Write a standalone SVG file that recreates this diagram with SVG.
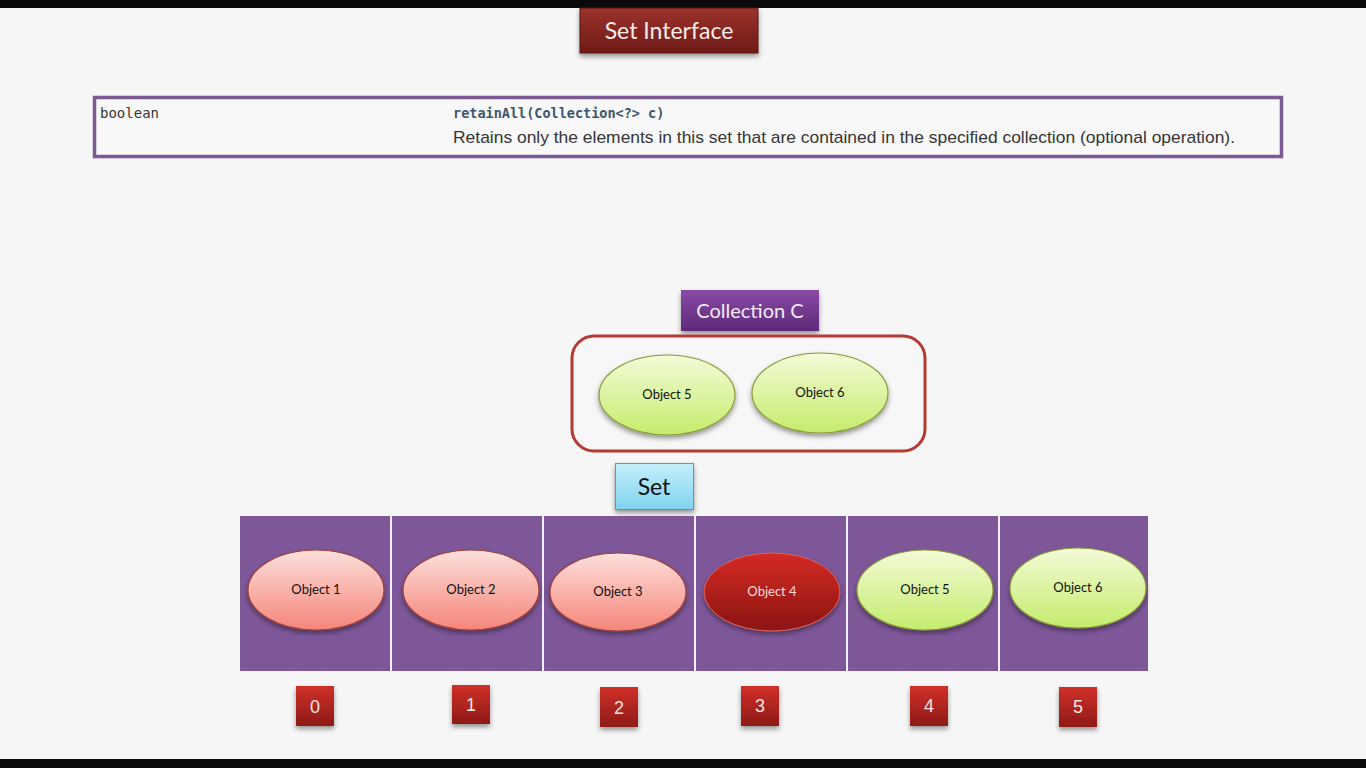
<svg xmlns="http://www.w3.org/2000/svg" width="1366" height="768" viewBox="0 0 1366 768">
<defs>
<linearGradient id="gRedBox" x1="0" y1="0" x2="0" y2="1"><stop offset="0" stop-color="#9c322b"/><stop offset="1" stop-color="#6e1b17"/></linearGradient>
<linearGradient id="gIdx" x1="0" y1="0" x2="0" y2="1"><stop offset="0" stop-color="#d0302a"/><stop offset="1" stop-color="#8e1a16"/></linearGradient>
<linearGradient id="gPurple" x1="0" y1="0" x2="0" y2="1"><stop offset="0" stop-color="#8a4aa6"/><stop offset="1" stop-color="#5e2a78"/></linearGradient>
<linearGradient id="gBlue" x1="0" y1="0" x2="0" y2="1"><stop offset="0" stop-color="#c4eefb"/><stop offset="1" stop-color="#7fd3f0"/></linearGradient>
<linearGradient id="gGreen" x1="0" y1="0" x2="0" y2="1"><stop offset="0" stop-color="#f4fbd8"/><stop offset="1" stop-color="#c4ec6c"/></linearGradient>
<linearGradient id="gPink" x1="0" y1="0" x2="0" y2="1"><stop offset="0" stop-color="#fde0dc"/><stop offset="1" stop-color="#f5857a"/></linearGradient>
<linearGradient id="gDark" x1="0" y1="0" x2="0" y2="1"><stop offset="0" stop-color="#d42a24"/><stop offset="1" stop-color="#8a1512"/></linearGradient>
<filter id="sh" x="-20%" y="-20%" width="140%" height="150%"><feDropShadow dx="0" dy="3" stdDeviation="2.5" flood-color="#000" flood-opacity="0.4"/></filter>
</defs>
<style>
.cal{font-family:Lato,"Open Sans","Liberation Sans",sans-serif}
.lbl{font-size:13px;fill:#111;text-anchor:middle}
.idx{fill:url(#gIdx);filter:url(#sh)}
.idxt{font-family:"Liberation Sans",sans-serif;font-size:18px;fill:#f4e6e4;text-anchor:middle}
.green{fill:url(#gGreen);stroke:#8a9a3a;stroke-width:1.2;filter:url(#sh)}
.pink{fill:url(#gPink);stroke:#a0403a;stroke-width:1.2;filter:url(#sh)}
</style>
<rect width="1366" height="768" fill="#f7f6f6"/>
<rect x="0" y="0" width="1366" height="8" fill="#0a0a0a"/>
<rect x="0" y="759" width="1366" height="9" fill="#0a0a0a"/>

<g id="set-interface">
<rect x="580" y="8" width="178" height="45" fill="url(#gRedBox)" stroke="#5a1510" stroke-width="1" filter="url(#sh)"/>
<text x="669" y="39" class="cal" font-size="23" fill="#f6ecea" text-anchor="middle">Set Interface</text>
</g>

<g id="method-box">
<rect x="94.5" y="97.5" width="1187" height="59" fill="#f8f8f8" stroke="#7c5a94" stroke-width="3.5"/>
<text x="100" y="118" font-family="'DejaVu Sans Mono',monospace" font-size="14" fill="#353535">boolean</text>
<text x="453" y="118" font-family="'DejaVu Sans Mono',monospace" font-size="13.5" font-weight="bold" fill="#3d5670">retainAll(Collection&lt;?&gt; c)</text>
<text x="453" y="143" font-family="'Liberation Sans',Arial,sans-serif" font-size="17" fill="#353535" textLength="782" lengthAdjust="spacingAndGlyphs">Retains only the elements in this set that are contained in the specified collection (optional operation).</text>
</g>

<g id="collection-c-label">
<rect x="681" y="290" width="138" height="41" fill="url(#gPurple)" filter="url(#sh)"/>
<text x="750" y="318" class="cal" font-size="20" fill="#f3ecf7" text-anchor="middle">Collection C</text>
</g>

<g id="collection-c">
<rect x="572" y="336" width="353" height="115" rx="22" fill="#f7f7f7" stroke="#b43a34" stroke-width="3"/>
<g id="c-object5"><ellipse cx="667" cy="395" rx="68" ry="40" class="green"/><text x="667" y="399" class="cal lbl">Object 5</text></g>
<g id="c-object6"><ellipse cx="820" cy="393" rx="68" ry="40" class="green"/><text x="820" y="397" class="cal lbl">Object 6</text></g>
</g>

<g id="set-label">
<rect x="615.5" y="463.5" width="78" height="46" fill="url(#gBlue)" stroke="#4a9fc0" stroke-width="1" filter="url(#sh)"/>
<text x="654" y="495" class="cal" font-size="23" fill="#111" text-anchor="middle">Set</text>
</g>

<g id="set-cells">
<rect x="240" y="516" width="908" height="155" fill="#7e5799"/>
<g stroke="#f2eef5" stroke-width="2">
<line x1="391" y1="516" x2="391" y2="671"/>
<line x1="543" y1="516" x2="543" y2="671"/>
<line x1="695" y1="516" x2="695" y2="671"/>
<line x1="847" y1="516" x2="847" y2="671"/>
<line x1="999" y1="516" x2="999" y2="671"/>
</g>
</g>

<g id="object1"><ellipse cx="316" cy="590" rx="68" ry="40" class="pink"/><text x="316" y="594" class="cal lbl">Object 1</text></g>
<g id="object2"><ellipse cx="471" cy="590" rx="68" ry="40" class="pink"/><text x="471" y="594" class="cal lbl">Object 2</text></g>
<g id="object3"><ellipse cx="618" cy="592" rx="68" ry="39" class="pink"/><text x="618" y="596" class="cal lbl">Object 3</text></g>
<g id="object4"><ellipse cx="772" cy="592" rx="68" ry="39" fill="url(#gDark)" stroke="#e06058" stroke-width="1" filter="url(#sh)"/><text x="772" y="596" class="cal lbl" style="fill:#f6dcd8">Object 4</text></g>
<g id="object5"><ellipse cx="925" cy="590" rx="68" ry="40" class="green"/><text x="925" y="594" class="cal lbl">Object 5</text></g>
<g id="object6"><ellipse cx="1078" cy="588" rx="68" ry="40" class="green"/><text x="1078" y="592" class="cal lbl">Object 6</text></g>

<g id="index0"><rect x="296" y="686" width="38" height="40" class="idx"/><text x="315" y="713" class="idxt">0</text></g>
<g id="index1"><rect x="452" y="685" width="38" height="39" class="idx"/><text x="471" y="711" class="idxt">1</text></g>
<g id="index2"><rect x="600" y="687" width="38" height="40" class="idx"/><text x="619" y="714" class="idxt">2</text></g>
<g id="index3"><rect x="741" y="686" width="38" height="40" class="idx"/><text x="760" y="712" class="idxt">3</text></g>
<g id="index4"><rect x="910" y="686" width="38" height="40" class="idx"/><text x="929" y="712" class="idxt">4</text></g>
<g id="index5"><rect x="1059" y="687" width="38" height="40" class="idx"/><text x="1078" y="713" class="idxt">5</text></g>

<g id="connectors"></g>
</svg>
